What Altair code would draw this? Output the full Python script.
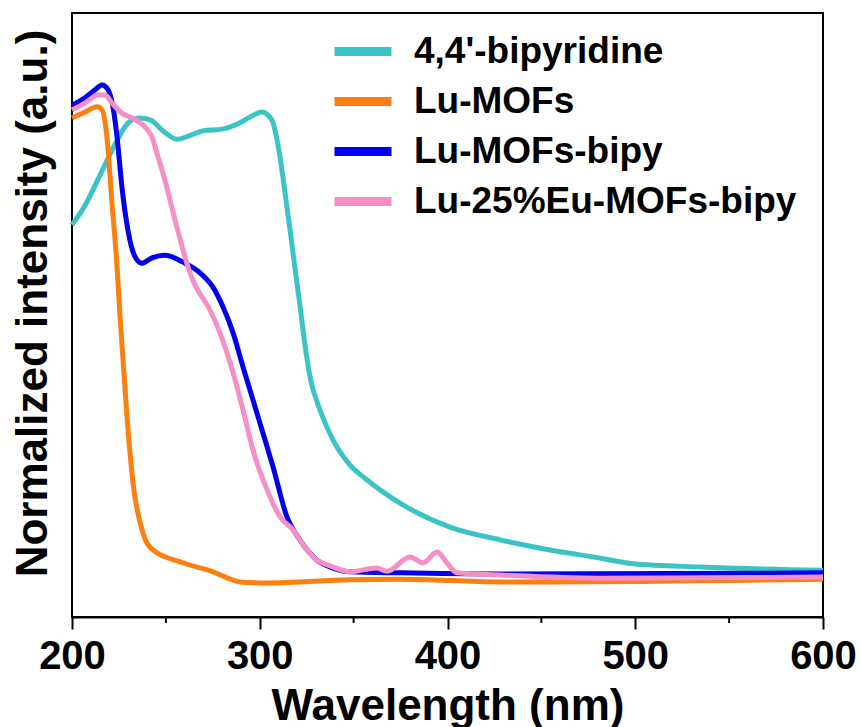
import altair as alt
import pandas as pd

FONT = "Liberation Sans"

series_names = ["4,4'-bipyridine", "Lu-MOFs", "Lu-MOFs-bipy", "Lu-25%Eu-MOFs-bipy"]
series_colors = ["#3cc3c6", "#fb8010", "#0000ee", "#f490c6"]

# 4,4'-bipyridine
bipy_x = [200, 207, 215, 222, 230, 236, 242, 248, 256, 262, 270, 280, 290, 296, 301,
          306.5, 309.2, 314.5, 319.8, 321.4, 324.1, 326.8, 332.1, 339, 348, 357,
          374.7, 401.3, 428, 454.6, 481, 499, 534.5, 600]
bipy_y = [0.737, 0.774, 0.831, 0.882, 0.929, 0.938, 0.934, 0.915, 0.898, 0.904, 0.914,
          0.917, 0.930, 0.942, 0.949, 0.934, 0.897, 0.771, 0.628, 0.586, 0.511, 0.451,
          0.389, 0.333, 0.286, 0.258, 0.214, 0.169, 0.145, 0.126, 0.111, 0.100, 0.094, 0.088]

# Lu-MOFs
lu_x = [200, 206.9, 213.3, 216, 218.6, 221.3, 224, 225.6, 229.3, 232.5, 237.8, 243.1,
        259.1, 275.1, 289.5, 303.9, 348, 374.7, 428, 454.6, 600]
lu_y = [0.938, 0.949, 0.959, 0.953, 0.902, 0.778, 0.658, 0.564, 0.376, 0.252, 0.158,
        0.126, 0.102, 0.085, 0.066, 0.064, 0.070, 0.071, 0.066, 0.066, 0.071]

# Lu-MOFs-bipy
lub_x = [200, 206.9, 212.3, 216, 219.2, 221.8, 224, 226.6, 229.8, 233.6, 237.3, 242.6,
         249.5, 259.1, 268.2, 275.1, 280.4, 285.8, 291.1, 296.4, 301.7, 307.1, 314.5,
         321.4, 330.5, 339, 348, 374.7, 428, 600]
lub_y = [0.962, 0.976, 0.991, 1.000, 0.991, 0.959, 0.902, 0.808, 0.727, 0.677, 0.665,
         0.675, 0.680, 0.667, 0.647, 0.620, 0.583, 0.534, 0.470, 0.408, 0.346, 0.282,
         0.188, 0.145, 0.107, 0.092, 0.085, 0.083, 0.081, 0.083]

# Lu-25%Eu-MOFs-bipy
eu_x = [200, 206.9, 213.8, 217.6, 221.3, 226.6, 232, 238.9, 242.6, 245.8, 249.5, 254.9,
        261.8, 264.4, 273.5, 278.8, 285.8, 291.1, 296.4, 303.9, 310.8, 317.7, 321.4,
        328.4, 339, 348, 362.4, 367.8, 380, 387, 394.4, 399.7, 405, 428, 481, 600]
eu_y = [0.953, 0.966, 0.981, 0.981, 0.966, 0.947, 0.938, 0.921, 0.902, 0.865, 0.821,
        0.746, 0.658, 0.633, 0.577, 0.534, 0.459, 0.389, 0.314, 0.239, 0.188, 0.164,
        0.145, 0.113, 0.094, 0.085, 0.092, 0.086, 0.113, 0.102, 0.122, 0.102, 0.083,
        0.079, 0.073, 0.075]

major_ticks = [200, 300, 400, 500, 600]
minor_ticks = [250, 350, 450, 550]

rows = []
for name, xs, ys in zip(series_names,
                        [bipy_x, lu_x, lub_x, eu_x],
                        [bipy_y, lu_y, lub_y, eu_y]):
    for i, (a, b) in enumerate(zip(xs, ys)):
        rows.append({"series": name, "wavelength": a, "intensity": b, "idx": i})
df = pd.DataFrame(rows)

xscale = alt.Scale(domain=[200, 600], nice=False, zero=False)
yscale = alt.Scale(domain=[0, 1.1353], nice=False, zero=True)

xaxis = alt.Axis(values=major_ticks, title="Wavelength (nm)", grid=False,
                 tickSize=12, tickWidth=2, tickColor="black",
                 domainColor="black", domainWidth=2,
                 labelFont=FONT, labelFontWeight="bold", labelFontSize=40,
                 labelColor="black", labelPadding=39, labelBaseline="alphabetic",
                 labelFlush=False, labelOverlap=False, labelBound=False,
                 titleFont=FONT, titleFontWeight="bold", titleFontSize=44,
                 titleColor="black", titleY=102, titleBaseline="alphabetic")

lines = alt.Chart(df).mark_line(strokeWidth=5, interpolate="monotone").encode(
    x=alt.X("wavelength:Q", scale=xscale, axis=xaxis),
    y=alt.Y("intensity:Q", scale=yscale,
            axis=alt.Axis(title="Normalized intensity (a.u.)", labels=False, ticks=False,
                          domain=False, grid=False,
                          titleFont=FONT, titleFontWeight="bold", titleFontSize=44,
                          titleColor="black", titleAngle=270, titleX=-26, titleY=290,
                          titleAlign="center", titleBaseline="alphabetic")),
    color=alt.Color("series:N",
                    scale=alt.Scale(domain=series_names, range=series_colors),
                    sort=series_names,
                    legend=alt.Legend(title=None, orient="none", legendX=258, legendY=21,
                                      symbolType="stroke", symbolSize=3249,
                                      symbolStrokeWidth=9, clipHeight=35,
                                      rowPadding=12, labelOffset=18, padding=0,
                                      labelFont=FONT, labelFontWeight="bold",
                                      labelFontSize=37, labelColor="black",
                                      labelLimit=600)),
    detail="series:N",
    order="idx:Q",
)

minor = alt.Chart(pd.DataFrame({"w": minor_ticks})).mark_rule(
    color="black", strokeWidth=2
).encode(
    x=alt.X("w:Q", scale=xscale, axis=xaxis),
    y=alt.value(604),
    y2=alt.value(610),
)

chart = alt.layer(lines, minor).properties(
    width=751, height=604,
    background="white",
    autosize=alt.AutoSizeParams(type="none"),
    padding={"left": 72, "top": 13, "right": 38, "bottom": 110},
).configure_view(
    stroke="black", strokeWidth=2
)

chart.save("out.html", embed_options={"renderer": "svg", "actions": False})
